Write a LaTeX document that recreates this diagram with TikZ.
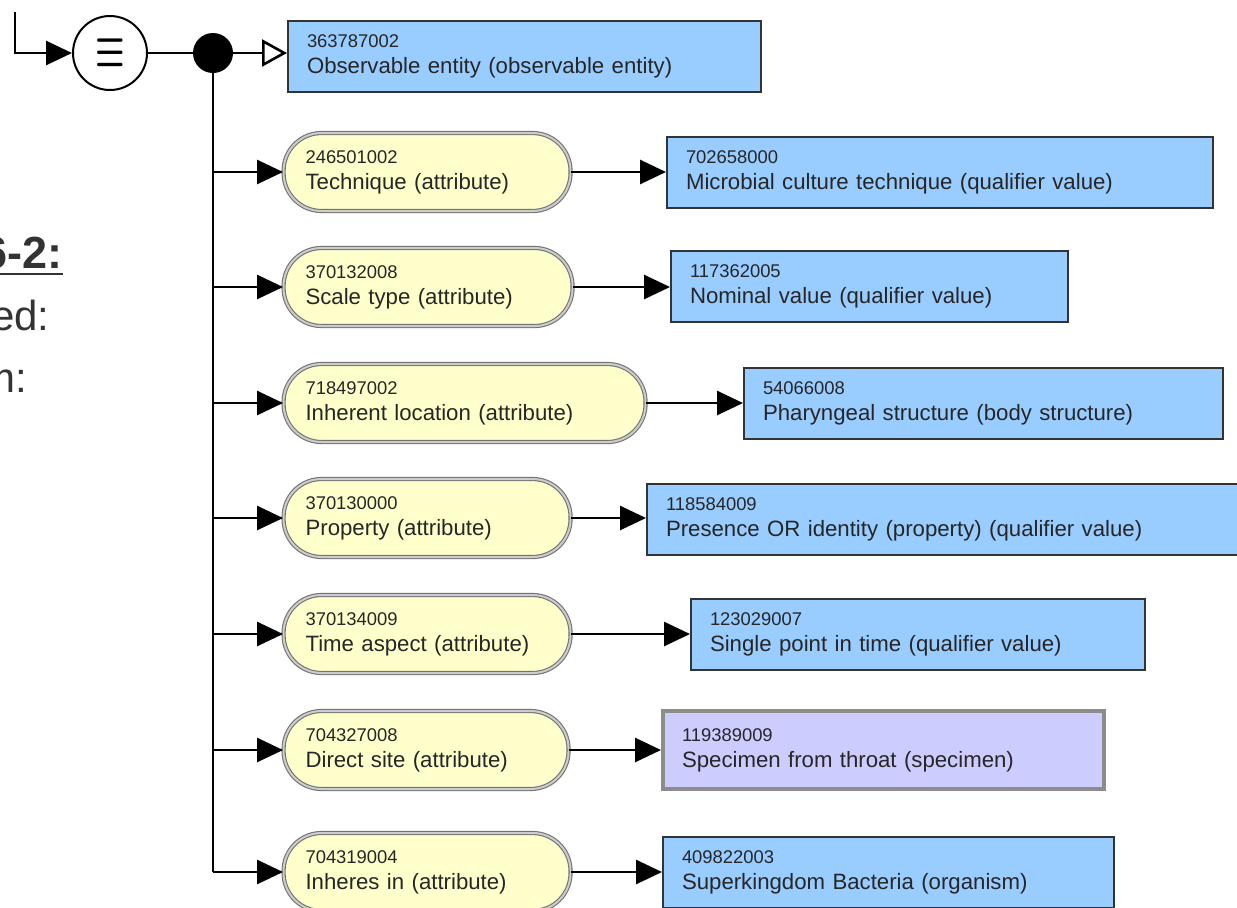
\documentclass[tikz,border=0pt]{standalone}
\usepackage{fontspec}
\setmainfont{Liberation Sans}
\usepackage{amsmath}
\usetikzlibrary{arrows.meta, positioning, calc}
\definecolor{valblue}{RGB}{153, 204, 255}
\definecolor{attryellow}{RGB}{255, 255, 204}
\definecolor{specpurple}{RGB}{204, 204, 255}
\definecolor{inkgray}{RGB}{51, 51, 51}

\begin{document}
\begin{tikzpicture}[
  x=0.5pt, y=-0.5pt,
  valbox/.style={draw=black!80, line width=1pt, fill=valblue, anchor=west, align=left, text width=#1, inner xsep=9.5pt, inner ysep=0pt, minimum height=35.5pt, font=\fontsize{11.1}{13}\selectfont, text=black!85},
  specbox/.style={valbox=#1, draw=black!45, line width=2pt, fill=specpurple, minimum height=39pt},
  attrbox/.style={draw=black!55, double=black!20, double distance=1pt, line width=0.55pt, fill=attryellow, rounded corners=19pt, anchor=west, align=left, text width=#1, inner xsep=11pt, inner ysep=0pt, minimum height=39pt, font=\fontsize{11.1}{13}\selectfont, text=black!85},
  arr/.style={-{Triangle[length=13pt, width=12pt]}, line width=1.4pt},
  openarr/.style={-{Triangle[open, length=12.5pt, width=13.5pt, fill=white]}, line width=1.3pt},
  sidetext/.style={anchor=base east, inner sep=0pt, text=inkgray, font=\fontsize{21}{25}\selectfont}
]
  \useasboundingbox (0, 0) rectangle (1237, 907);
  \clip (0, 0) rectangle (1237, 907);

  % cropped slide text on the left
  \node[sidetext, font=\fontsize{22.5}{27}\selectfont\bfseries] (head) at (63, 268) {\underline{6-2:}};
  \node[sidetext] (sideA) at (50, 330) {ed:};
  \node[sidetext] (sideB) at (28, 392) {m:};

  % definition status and conjunction
  \coordinate (entry) at (15, 12);
  \node[draw, circle, line width=1pt, minimum size=37pt, inner sep=0pt] (eq) at (110, 53) {\scalebox{1.15}[1.9]{\fontsize{15}{15}\selectfont$\boldsymbol{\equiv}$}};
  \node[circle, fill=black, minimum size=20pt, inner sep=0pt] (dot) at (213, 53) {};

  % parent concept
  \node[valbox=217.5pt] (obs) at (287, 56.5) {{\fontsize{9.2}{11}\selectfont 363787002}\\Observable entity (observable entity)};

  % attributes
  \node[attrbox=121.5pt] (tech) at (283, 172) {{\fontsize{9.2}{11}\selectfont 246501002}\\Technique (attribute)};
  \node[attrbox=122.5pt] (scale) at (283, 287) {{\fontsize{9.2}{11}\selectfont 370132008}\\Scale type (attribute)};
  \node[attrbox=159pt] (inhloc) at (283, 403) {{\fontsize{9.2}{11}\selectfont 718497002}\\Inherent location (attribute)};
  \node[attrbox=121.5pt] (prop) at (283, 518) {{\fontsize{9.2}{11}\selectfont 370130000}\\Property (attribute)};
  \node[attrbox=121.5pt] (time) at (283, 634) {{\fontsize{9.2}{11}\selectfont 370134009}\\Time aspect (attribute)};
  \node[attrbox=120.5pt] (site) at (283, 750) {{\fontsize{9.2}{11}\selectfont 704327008}\\Direct site (attribute)};
  \node[attrbox=121.5pt] (inh) at (283, 872) {{\fontsize{9.2}{11}\selectfont 704319004}\\Inheres in (attribute)};

  % values
  \node[valbox=254pt] (techval) at (666, 172.5) {{\fontsize{9.2}{11}\selectfont 702658000}\\Microbial culture technique (qualifier value)};
  \node[valbox=179.5pt] (scaleval) at (670, 286) {{\fontsize{9.2}{11}\selectfont 117362005}\\Nominal value (qualifier value)};
  \node[valbox=220.5pt] (inhlocval) at (743, 403) {{\fontsize{9.2}{11}\selectfont 54066008}\\Pharyngeal structure (body structure)};
  \node[valbox=291pt] (propval) at (646, 519) {{\fontsize{9.2}{11}\selectfont 118584009}\\Presence OR identity (property) (qualifier value)};
  \node[valbox=208pt] (timeval) at (690, 634.5) {{\fontsize{9.2}{11}\selectfont 123029007}\\Single point in time (qualifier value)};
  \node[specbox=201.5pt] (siteval) at (661, 750) {{\fontsize{9.2}{11}\selectfont 119389009}\\Specimen from throat (specimen)};
  \node[valbox=206.5pt] (inhval) at (662, 872.5) {{\fontsize{9.2}{11}\selectfont 409822003}\\Superkingdom Bacteria (organism)};

  % connectors
  \draw[arr] (entry) |- (eq);
  \draw[line width=1.3pt] (eq) -- (dot);
  \draw[openarr] (dot) -- (dot -| obs.west);
  \draw[line width=1.4pt] (dot) -- (dot |- inh.west);

  \draw[arr] (dot |- tech.west) -- (tech.west);
  \draw[arr] (dot |- scale.west) -- (scale.west);
  \draw[arr] (dot |- inhloc.west) -- (inhloc.west);
  \draw[arr] (dot |- prop.west) -- (prop.west);
  \draw[arr] (dot |- time.west) -- (time.west);
  \draw[arr] (dot |- site.west) -- (site.west);
  \draw[arr] (dot |- inh.west) -- (inh.west);

  \draw[arr] (tech.east) -- (tech.east -| techval.west);
  \draw[arr] (scale.east) -- (scale.east -| scaleval.west);
  \draw[arr] (inhloc.east) -- (inhloc.east -| inhlocval.west);
  \draw[arr] (prop.east) -- (prop.east -| propval.west);
  \draw[arr] (time.east) -- (time.east -| timeval.west);
  \draw[arr] (site.east) -- (site.east -| siteval.west);
  \draw[arr] (inh.east) -- (inh.east -| inhval.west);
\end{tikzpicture}
\end{document}
